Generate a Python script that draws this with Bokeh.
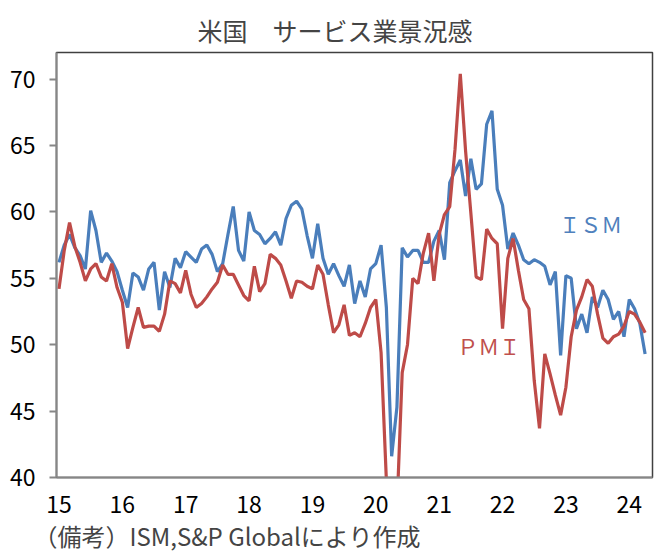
from bokeh.plotting import figure
from bokeh.models import Range1d, FixedTicker, Title
from bokeh.core.properties import value
from bokeh.embed import file_html
from bokeh.resources import INLINE

# monthly, Jan 2015 - Apr 2024
ism = [56.2, 57.5, 58.3, 57.3, 56.7, 55.7, 60.1, 58.6, 56.2, 56.9, 56.3, 55.5,
       54.1, 52.8, 55.4, 55.1, 54.1, 55.7, 56.2, 52.6, 55.5, 54.3, 56.5, 55.8,
       57.0, 56.6, 56.2, 57.2, 57.5, 56.8, 55.5, 56.1, 58.3, 60.4, 57.1, 56.3,
       60.0, 58.6, 58.3, 57.6, 58.0, 58.5, 57.5, 59.5, 60.5, 60.8, 60.2, 58.2,
       56.5, 59.1, 56.5, 55.3, 56.1, 55.2, 54.4, 56.0, 53.1, 54.8, 53.6, 55.7,
       56.1, 57.5, 52.8, 41.6, 45.3, 57.3, 56.6, 57.1, 57.1, 56.2, 56.2, 57.8,
       58.6, 56.4, 62.2, 63.1, 63.9, 61.2, 64.0, 61.7, 62.1, 66.6, 67.6, 61.7,
       60.5, 57.2, 58.4, 57.5, 56.4, 56.1, 56.4, 56.2, 55.9, 54.5, 55.5, 49.2,
       55.2, 55.0, 51.2, 52.3, 50.9, 53.6, 52.8, 54.1, 53.4, 51.9, 52.5, 50.6,
       53.4, 52.7, 51.6, 49.3]

pmi = [54.2, 57.1, 59.2, 57.4, 56.2, 54.8, 55.7, 56.1, 55.1, 54.8, 56.1, 54.3,
       53.2, 49.7, 51.3, 52.8, 51.3, 51.4, 51.4, 51.0, 52.3, 54.8, 54.6, 53.9,
       55.6, 53.8, 52.8, 53.1, 53.6, 54.2, 54.7, 56.0, 55.3, 55.3, 54.5, 53.7,
       53.3, 55.9, 54.0, 54.6, 56.8, 56.5, 56.0, 54.8, 53.5, 54.8, 54.7, 54.4,
       54.2, 56.0, 55.3, 53.0, 50.9, 51.5, 53.0, 50.7, 50.9, 50.6, 51.6, 52.8,
       53.4, 49.4, 39.8, 26.7, 37.5, 47.9, 50.0, 55.0, 54.6, 56.9, 58.4, 54.8,
       58.3, 59.8, 60.4, 64.7, 70.4, 64.6, 59.9, 55.1, 54.9, 58.7, 58.0, 57.6,
       51.2, 56.5, 58.0, 55.6, 53.4, 52.7, 47.3, 43.7, 49.3, 47.8, 46.2, 44.7,
       46.8, 50.6, 52.6, 53.6, 54.9, 54.4, 52.3, 50.5, 50.1, 50.6, 50.8, 51.4,
       52.5, 52.3, 51.7, 50.9]

year_labels = ["15", "16", "17", "18", "19", "20", "21", "22", "23", "24"]
months = list(range(len(ism)))

FONT = "Noto Sans CJK JP"
BLUE = "#4A7EBB"
RED = "#BE4B48"

p = figure(width=664, height=555, output_backend="svg", toolbar_location=None,
           x_range=Range1d(-0.47, 112.4), y_range=Range1d(40, 72),
           min_border_left=56, min_border_right=12, min_border_top=52,
           min_border_bottom=78, background_fill_color="white",
           border_fill_color="white")

p.title.text = "米国　サービス業景況感"
p.title.text_font = FONT
p.title.text_font_size = "25px"
p.title.text_font_style = "normal"
p.title.align = "left"
p.title.offset = 141
p.title.standoff = 9

p.line(months, ism, line_color=BLUE, line_width=3.2)
p.line(months, pmi, line_color=RED, line_width=3.2)

p.text(x=[100.7], y=[59.1], text=["ＩＳＭ"], text_color="#4F81BD",
       text_font=value(FONT), text_font_size="21px",
       text_align="center", text_baseline="middle")
p.text(x=[81.4], y=[49.9], text=["ＰＭＩ"], text_color="#C0504D",
       text_font=value(FONT), text_font_size="21px",
       text_align="center", text_baseline="middle")

p.xgrid.visible = False
p.ygrid.visible = False
p.outline_line_color = "#404040"
p.outline_line_width = 1.5

p.xaxis.ticker = FixedTicker(ticks=[12 * i for i in range(len(year_labels))])
p.xaxis.major_label_overrides = {12 * i: t for i, t in enumerate(year_labels)}
p.xaxis.major_tick_line_color = None
p.xaxis.minor_tick_line_color = None
p.xaxis.major_label_standoff = 12

p.yaxis.ticker = FixedTicker(ticks=[40, 45, 50, 55, 60, 65, 70])
p.yaxis.minor_tick_line_color = None
p.yaxis.major_tick_out = 7
p.yaxis.major_tick_in = 0
p.yaxis.major_tick_line_color = "#868686"
p.yaxis.major_tick_line_width = 2
p.yaxis.major_label_standoff = 14

for ax in (p.xaxis, p.yaxis):
    ax.axis_line_color = "#868686"
    ax.axis_line_width = 2
    ax.major_label_text_font = FONT
    ax.major_label_text_font_size = "23px"
    ax.major_label_text_color = "black"

p.add_layout(Title(text="（備考）ISM,S&P Globalにより作成", align="left",
                   offset=-23, standoff=0, text_font=FONT,
                   text_font_size="24px", text_font_style="normal"), "below")

open("out.html", "w").write(file_html(p, INLINE))
